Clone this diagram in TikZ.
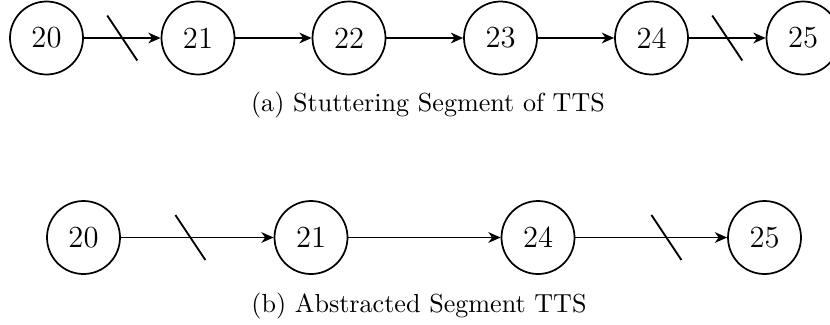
\documentclass[tikz,border=0pt]{standalone}
\usetikzlibrary{arrows.meta}
\begin{document}
\begin{tikzpicture}[x=0.3755pt,y=-0.3755pt,
  state/.style={circle,draw,line width=0.65pt,minimum size=73*0.3755pt,inner sep=0pt,font=\fontsize{11.5}{13}\selectfont},
  trans/.style={line width=0.7pt,-{Stealth[length=4.6pt,width=4pt,inset=1.4pt]}},
  cut/.style={line width=0.7pt},
  captext/.style={font=\fontsize{9.8}{12}\selectfont,inner sep=0pt}]
\useasboundingbox (0,0) rectangle (830,324);
% stuttering segment
\node[state] (a20) at (46.5,38) {20};
\node[state] (a21) at (198,38) {21};
\node[state] (a22) at (349,38) {22};
\node[state] (a23) at (500.5,38) {23};
\node[state] (a24) at (651.5,38) {24};
\node[state] (a25) at (803,38) {25};
\draw[trans] (a20) -- coordinate[pos=0.5] (ca1) (a21);
\draw[trans] (a21) -- (a22);
\draw[trans] (a22) -- (a23);
\draw[trans] (a23) -- (a24);
\draw[trans] (a24) -- coordinate[pos=0.5] (ca2) (a25);
\draw[cut] (ca1) +(-15,-22.5) -- +(15,22.5);
\draw[cut] (ca2) +(-15,-22.5) -- +(15,22.5);
\node[captext] (capa) at (428,105) {(a) Stuttering Segment of TTS};
% abstracted segment
\node[state] (b20) at (83.5,237.5) {20};
\node[state] (b21) at (311,237.5) {21};
\node[state] (b24) at (538,237.5) {24};
\node[state] (b25) at (764.5,237.5) {25};
\draw[trans] (b20) -- coordinate[pos=0.455] (cb1) (b21);
\draw[trans] (b21) -- (b24);
\draw[trans] (b24) -- coordinate[pos=0.6] (cb2) (b25);
\draw[cut] (cb1) +(-15,-22.5) -- +(15,22.5);
\draw[cut] (cb2) +(-15,-22.5) -- +(15,22.5);
\node[captext] (capb) at (419,306) {(b) Abstracted Segment TTS};
\end{tikzpicture}
\end{document}
